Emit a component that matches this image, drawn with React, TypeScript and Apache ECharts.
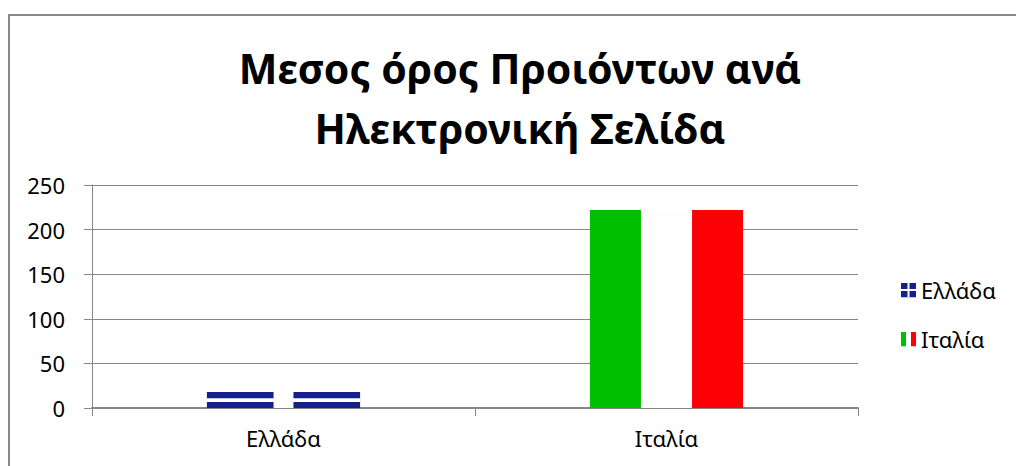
import React, { useEffect, useRef } from "react";
import * as echarts from "echarts";

const categories = ["Ελλάδα", "Ιταλία"];
const seriesNames = ["Ελλάδα", "Ιταλία"];
const greeceValues = [18];
const italyValues = [222];
const yTicks = [0, 50, 100, 150, 200, 250];
const titleText = "Μεσος όρος Προιόντων ανά\nΗλεκτρονική Σελίδα";

const BLUE = "#15208a";
const GREEN = "#00be00";
const RED = "#fc0006";
const WHITE = "#fdfefd";
const FONT = "Noto Sans";
const BAR_RATIO = 0.4;

const svgIcon = (body: string) =>
  "image://data:image/svg+xml;charset=utf-8," +
  encodeURIComponent(
    `<svg xmlns='http://www.w3.org/2000/svg' width='15' height='15' viewBox='0 0 15 15'>${body}</svg>`
  );

const greeceIcon = svgIcon(
  `<rect width='15' height='15' fill='${BLUE}'/><rect x='6.5' width='2' height='15' fill='#fff'/><rect y='6.5' width='15' height='2' fill='#fff'/>`
);
const italyIcon = svgIcon(
  `<rect width='5' height='15' fill='${GREEN}'/><rect x='5' width='5' height='15' fill='${WHITE}'/><rect x='10' width='5' height='15' fill='${RED}'/>`
);

function barGeom(api: any) {
  const cat = api.value(0);
  const v = api.value(1);
  const top = api.coord([cat, v]);
  const base = api.coord([cat, 0]);
  const bw = api.size([1, 0])[0] * BAR_RATIO;
  return { x: top[0] - bw / 2, y: top[1], w: bw, h: base[1] - top[1] };
}

const renderGreece = (_p: any, api: any) => {
  const g = barGeom(api);
  return {
    type: "group",
    children: [
      { type: "rect", shape: { x: g.x, y: g.y, width: g.w, height: g.h }, style: { fill: BLUE } },
      {
        type: "rect",
        shape: { x: g.x, y: g.y + g.h * 0.39, width: g.w, height: g.h * 0.23 },
        style: { fill: "#ffffff" },
      },
      {
        type: "rect",
        shape: { x: g.x + g.w * 0.435, y: g.y, width: g.w * 0.13, height: g.h },
        style: { fill: "#ffffff" },
      },
    ],
  };
};

const renderItaly = (_p: any, api: any) => {
  const g = barGeom(api);
  const t = g.w / 3;
  return {
    type: "group",
    children: [
      { type: "rect", shape: { x: g.x, y: g.y, width: t, height: g.h }, style: { fill: GREEN } },
      { type: "rect", shape: { x: g.x + t, y: g.y, width: t, height: g.h }, style: { fill: WHITE } },
      { type: "rect", shape: { x: g.x + 2 * t, y: g.y, width: t, height: g.h }, style: { fill: RED } },
    ],
  };
};

export default function App() {
  const ref = useRef<HTMLDivElement>(null);
  useEffect(() => {
    if (!ref.current) return;
    const chart = echarts.init(ref.current, undefined, { renderer: "svg" });
    chart.setOption({
      animation: false,
      backgroundColor: "#ffffff",
      textStyle: { fontFamily: FONT },
      title: {
        text: titleText,
        left: 520,
        top: 38,
        padding: 0,
        textAlign: "center",
        textStyle: {
          fontFamily: FONT,
          fontSize: 41,
          fontWeight: "bold",
          color: "#000000",
          lineHeight: 60,
        },
      },
      graphic: [
        {
          type: "rect",
          shape: { x: 9, y: 15, width: 1200, height: 700 },
          style: { fill: "none", stroke: "#8a8a8a", lineWidth: 2 },
          silent: true,
          z: -1,
        },
      ],
      legend: {
        orient: "vertical",
        left: 901,
        top: 279,
        padding: 0,
        itemWidth: 15,
        itemHeight: 15,
        itemGap: 27,
        textStyle: { fontFamily: FONT, fontSize: 22, color: "#000000", lineHeight: 22 },
        data: [
          { name: seriesNames[0], icon: greeceIcon },
          { name: seriesNames[1], icon: italyIcon },
        ],
      },
      grid: { left: 92, right: 158, top: 185, bottom: 58, containLabel: false },
      xAxis: {
        type: "category",
        data: categories,
        boundaryGap: true,
        axisLine: { lineStyle: { color: "#868686", width: 2 } },
        axisTick: { show: true, inside: false, length: 8, alignWithLabel: false, lineStyle: { color: "#868686" } },
        axisLabel: { fontFamily: FONT, fontSize: 22, color: "#000000", margin: 19 },
        splitLine: { show: false },
      },
      yAxis: {
        type: "value",
        min: yTicks[0],
        max: yTicks[yTicks.length - 1],
        interval: yTicks[1] - yTicks[0],
        axisLine: { show: true, lineStyle: { color: "#868686", width: 1 } },
        axisTick: { show: true, inside: false, length: 8, lineStyle: { color: "#868686" } },
        axisLabel: { fontFamily: FONT, fontSize: 22, color: "#000000", margin: 27 },
        splitLine: { show: true, lineStyle: { color: "#868686", width: 1 } },
      },
      series: [
        {
          name: seriesNames[0],
          type: "custom",
          renderItem: renderGreece,
          encode: { x: 0, y: 1 },
          data: greeceValues.map((v) => [0, v]),
          z: 3,
        },
        {
          name: seriesNames[1],
          type: "custom",
          renderItem: renderItaly,
          encode: { x: 0, y: 1 },
          data: italyValues.map((v) => [1, v]),
          z: 3,
        },
      ],
    });
    return () => chart.dispose();
  }, []);
  return (
    <div
      ref={ref}
      style={{ position: "fixed", left: 0, top: 0, width: 1016, height: 466 }}
    />
  );
}
